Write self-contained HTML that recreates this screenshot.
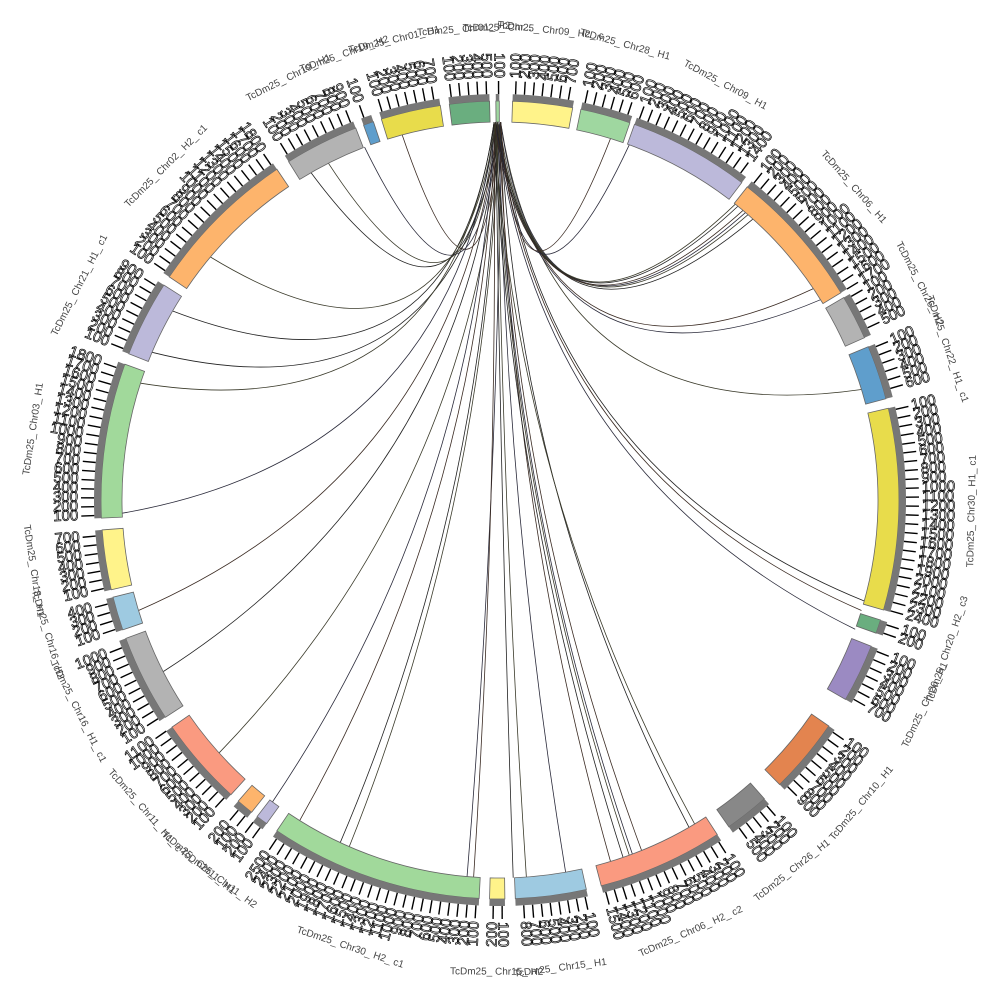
<!DOCTYPE html>
<html><head><meta charset="utf-8"><style>
html,body{margin:0;padding:0;background:#fff;}
svg{display:block;font-family:"Liberation Sans",sans-serif;}
</style></head><body>
<svg id="s" width="1000" height="1000" viewBox="0 0 1000 1000" xmlns="http://www.w3.org/2000/svg">
<rect width="1000" height="1000" fill="#fff"/>
<g id="links"></g><g id="secs"></g><g id="labs"></g>
</svg>
<script>
const cx=500,cy=500,NS="http://www.w3.org/2000/svg";
function pt(a,r){const t=a*Math.PI/180;return [cx+r*Math.sin(t),cy-r*Math.cos(t)];}
function arc(a0,a1,r0,r1){const p=pt(a0,r1),q=pt(a1,r1),s=pt(a1,r0),u=pt(a0,r0);const l=(a1-a0)>180?1:0;
return `M${p} A${r1},${r1} 0 ${l} 1 ${q} L${s} A${r0},${r0} 0 ${l} 0 ${u}Z`;}
function el(tag,attrs,parent,txt){const e=document.createElementNS(NS,tag);for(const k in attrs)e.setAttribute(k,attrs[k]);if(txt!==undefined)e.textContent=txt;parent.appendChild(e);return e;}
const S=[
[352.7,358.5,"#6aae7f","TcDm25_Chr01_H2"],
[359.4,359.9,"#9fd7a0","TcDm25_Chr..."],
[1.8,10.5,"#fff38a","TcDm25_Chr09_H2_c"],
[11.7,19,"#9fd7a0","TcDm25_Chr28_H1"],
[19.7,37.3,"#bcb9da","TcDm25_Chr09_H1"],
[38.3,58.7,"#fdb46c","TcDm25_Chr06_H1"],
[59.5,66,"#b3b3b3","TcDm25_Chr26_H2"],
[67.4,75.3,"#5f9ecc","TcDm25_Chr22_H1_c1"],
[76.7,106,"#e8dc4b","TcDm25_Chr30_H1_c1"],
[107.5,109.5,"#6aae7f","TcDm25_Chr20_H2_c3"],
[111.5,120,"#9b8ac2","TcDm25_Chr20_H1"],
[124.5,135.5,"#e3844f","TcDm25_Chr10_H1"],
[138.5,145,"#888888","TcDm25_Chr26_H1"],
[147,165.3,"#fa9a80","TcDm25_Chr06_H2_c2"],
[167.5,177.8,"#9ecae1","TcDm25_Chr15_H1"],
[179.3,181.5,"#fff38a","TcDm25_Chr15_H2"],
[183,214,"#a1d99b","TcDm25_Chr30_H2_c1"],
[215.8,217.5,"#bcb9da","TcDm25_Chr11_H2"],
[218.5,221,"#fdb46c","TcDm25_Chr11_H1"],
[222.4,235.3,"#fa9a80","TcDm25_Chr11_H1_c"],
[237,249.7,"#b3b3b3","TcDm25_Chr16_H1_c1"],
[251,255.9,"#9ecae1","TcDm25_Chr16_H2"],
[257,265.7,"#fff38a","TcDm25_Chr13_H1"],
[267.4,289.9,"#a1d99b","TcDm25_Chr03_H1"],
[291.5,302.6,"#bcb9da","TcDm25_Chr21_H1_c1"],
[304,326,"#fdb46c","TcDm25_Chr02_H2_c1"],
[328,338.8,"#b3b3b3","TcDm25_Chr19_H1"],
[340,341.5,"#5f9ecc","TcDm25_Chr19_H2"],
[342.7,351.4,"#e8dc4b","TcDm25_Chr01_H1"]
];
const gs=document.getElementById("secs"),gl=document.getElementById("labs"),gk=document.getElementById("links");
const ends=[330,333,339,345,293,288,268,253,243,228,217,212,205,203.5,185,184,178,176,170,163,161,160,159.5,158,150,149,110,107,105.5,73,58,56,42,41,40.5,40,39,38.5,20,17,300,310];
ends.forEach((b,i)=>{const a=359.6+(i%5-2)*0.25;const p=pt(a,378),q=pt(b,378);
let d=Math.abs(b-a);if(d>180)d=360-d;
const mid=[(p[0]+q[0])/2,(p[1]+q[1])/2];const f=0.12+0.25*(1-d/180);
const c=[cx+(mid[0]-cx)*f,cy+(mid[1]-cy)*f];
el("path",{d:`M${p} Q${c} ${q}`,fill:"none",stroke:["#222","#3a3a2a","#2a2a3a","#3a2a22"][i%4],"stroke-width":0.8},gk);});
S.forEach(s=>{const [a0,a1,col,name]=s;
el("path",{d:arc(a0,a1,378,399),fill:col,stroke:"#666","stroke-width":0.8},gs);
el("path",{d:arc(a0,a1,399,406),fill:"#777",stroke:"none"},gs);
const step=1.25;let n=0;
for(let a=a0+0.4;a<=a1;a+=step){n++;const p=pt(a,406),q=pt(a,419);
el("line",{x1:p[0],y1:p[1],x2:q[0],y2:q[1],stroke:"#000","stroke-width":1.4},gs);
const t=pt(a,422);let rot,anc;if(a>0&&a<180){rot=a-90;anc="start";}else{rot=a+90;anc="end";}
el("text",{x:t[0],y:t[1],transform:`rotate(${rot} ${t[0]} ${t[1]})`,"text-anchor":anc,"dominant-baseline":"middle","font-size":15,fill:"none",stroke:"#000","stroke-width":0.7},gl,String(n*100));}
const am=(a0+a1)/2,t=pt(am,472);const rr=(am>90&&am<270)?am+180:am;
el("text",{x:t[0],y:t[1],transform:`rotate(${rr} ${t[0]} ${t[1]})`,"text-anchor":"middle","dominant-baseline":"middle","font-size":10,fill:"#444"},gl,name.replace(/_/g,"_ "));
});
</script>
</body></html>
